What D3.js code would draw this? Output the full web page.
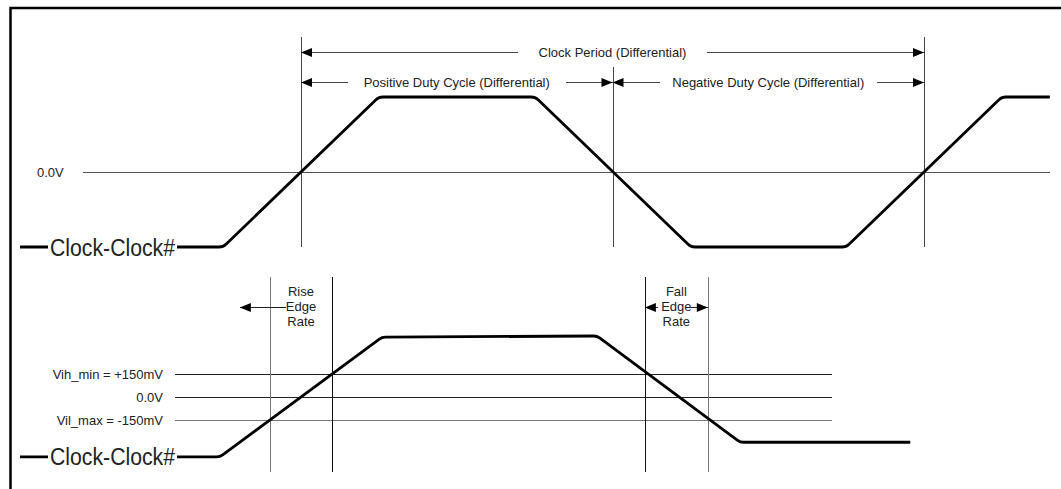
<!DOCTYPE html>
<html>
<head>
<meta charset="utf-8">
<script src="https://cdn.jsdelivr.net/npm/d3@7"></script>
<style>
  body { margin: 0; background: #fff; }
  svg text { font-family: "Liberation Sans", Arial, Helvetica, sans-serif; fill: #222; }
  .thin { stroke-width: 1; shape-rendering: crispEdges; fill: none; }
  .wave { fill: none; stroke: #000; stroke-width: 2.8; }
</style>
</head>
<body>
<div id="chart"></div>
<script>
const width = 1061, height = 489;

// time is in clock periods, 0 = first rising zero crossing
// upper panel: normalised differential level (-1 low, +1 high)
const topTimes  = [-0.451, -0.125, 0.125, 0.376, 0.626, 0.875, 1.125, 1.202];
const topLevels = [-1, -1, 1, 1, -1, -1, 1, 1];
const topMarks  = [0, 0.5, 1];

const spanStarts = [0, 0, 0.5];
const spanEnds   = [1, 0.5, 1];
const spanLabels = ["Clock Period (Differential)",
                    "Positive Duty Cycle (Differential)",
                    "Negative Duty Cycle (Differential)"];

// lower panel: differential voltage in mV
const botTimes = [-0.451, -0.130, 0.130, 0.475, 0.705, 0.978];
const botMv    = [-390, -390, 390, 398, -295, -295];
const botMarks = [-0.050, 0.050, 0.552, 0.653];

const thresholds      = [150, 0, -150];
const thresholdLabels = ["Vih_min = +150mV", "0.0V", "Vil_max = -150mV"];

const waveLabel = "Clock-Clock#";

const x = d3.scaleLinear().domain([0, 1]).range([301, 924]);
const yTop = d3.scaleLinear().domain([-1, 1]).range([247, 97]);
const yBot = d3.scaleLinear().domain([-150, 150]).range([420, 374]);

const px = v => Math.round(v) + 0.5;

// polyline with rounded corners
function roundedPath(pts, r) {
  const p = d3.path();
  p.moveTo(pts[0][0], pts[0][1]);
  for (let i = 1; i < pts.length - 1; i++)
    p.arcTo(pts[i][0], pts[i][1], pts[i+1][0], pts[i+1][1], r);
  p.lineTo(pts[pts.length-1][0], pts[pts.length-1][1]);
  return p.toString();
}

function arrowHead(g, tipX, y, dir) {
  // dir -1 points left, +1 points right
  const L = 11, H = 4.5;
  g.append('path')
    .attr('d', `M${tipX},${y}L${tipX - dir*L},${y - H}L${tipX - dir*L},${y + H}Z`)
    .attr('fill', '#000');
}

const svg = d3.select('#chart').append('svg')
  .attr('width', width).attr('height', height);

// frame
svg.append('path')
  .attr('d', `M10.5,${height}V8H${width}`)
  .attr('fill', 'none').attr('stroke', '#000').attr('stroke-width', 2.5);

/* ---------- upper panel ---------- */
const up = svg.append('g');

up.append('line').attr('class', 'thin')
  .attr('x1', x(-0.350)).attr('x2', x(1.202))
  .attr('y1', px(yTop(0))).attr('y2', px(yTop(0)))
  .attr('stroke', '#555');
up.append('text')
  .attr('x', 37).attr('y', yTop(0)).attr('dy', '0.35em')
  .attr('font-size', 13).text("0.0V");

topMarks.forEach(t => {
  up.append('line').attr('class', 'thin')
    .attr('x1', px(x(t))).attr('x2', px(x(t)))
    .attr('y1', t === 0.5 ? 67 : 37).attr('y2', yTop(-1))
    .attr('stroke', '#444');
});

const rowY = [52, 82], armLen = [217, 47, 47];
spanLabels.forEach((label, i) => {
  const y = rowY[i === 0 ? 0 : 1];
  const x0 = x(spanStarts[i]), x1 = x(spanEnds[i]);
  up.append('line').attr('class', 'thin')
    .attr('x1', x0).attr('x2', x0 + armLen[i])
    .attr('y1', px(y)).attr('y2', px(y)).attr('stroke', '#444');
  up.append('line').attr('class', 'thin')
    .attr('x1', x1 - armLen[i]).attr('x2', x1)
    .attr('y1', px(y)).attr('y2', px(y)).attr('stroke', '#444');
  arrowHead(up, x0, y + 0.5, -1);
  arrowHead(up, x1, y + 0.5, 1);
  up.append('text')
    .attr('x', (x0 + x1) / 2).attr('y', y).attr('dy', '0.35em')
    .attr('text-anchor', 'middle').attr('font-size', 13)
    .text(label);
});

up.append('path').attr('class', 'wave')
  .attr('d', roundedPath(topTimes.map((t, i) => [x(t), yTop(topLevels[i])]), 10));

/* ---------- lower panel ---------- */
const lo = svg.append('g');

const thrColors = ['#222', '#222', '#777'];
thresholds.forEach((v, i) => {
  lo.append('line').attr('class', 'thin')
    .attr('x1', x(-0.202)).attr('x2', x(0.852))
    .attr('y1', px(yBot(v))).attr('y2', px(yBot(v)))
    .attr('stroke', thrColors[i]);
  lo.append('text')
    .attr('x', 163).attr('y', yBot(v)).attr('dy', '0.35em')
    .attr('text-anchor', 'end').attr('font-size', 13)
    .text(thresholdLabels[i]);
});

const markColors = ['#777', '#111', '#111', '#777'];
botMarks.forEach((t, i) => {
  lo.append('line').attr('class', 'thin')
    .attr('x1', px(x(t))).attr('x2', px(x(t)))
    .attr('y1', 277).attr('y2', 472)
    .attr('stroke', markColors[i]);
});

// edge rate labels
const edgeLines = [["Rise", "Edge", "Rate"], ["Fall", "Edge", "Rate"]];
edgeLines.forEach((lines, k) => {
  const cx = (x(botMarks[2*k]) + x(botMarks[2*k + 1])) / 2;
  lines.forEach((s, j) => {
    lo.append('text')
      .attr('x', cx).attr('y', 296 + j * 15)
      .attr('text-anchor', 'middle').attr('font-size', 13)
      .text(s);
  });
});
const arrowY = 307;
// rise: single arrow pointing left
const riseC = (x(botMarks[0]) + x(botMarks[1])) / 2;
lo.append('line').attr('class', 'thin')
  .attr('x1', x(botMarks[0]) - 30).attr('x2', riseC - 15)
  .attr('y1', px(arrowY)).attr('y2', px(arrowY)).attr('stroke', '#222');
arrowHead(lo, x(botMarks[0]) - 30, arrowY + 0.5, -1);
// fall: arrows to both marks
const fallC = (x(botMarks[2]) + x(botMarks[3])) / 2;
lo.append('line').attr('class', 'thin')
  .attr('x1', x(botMarks[2])).attr('x2', fallC - 18)
  .attr('y1', px(arrowY)).attr('y2', px(arrowY)).attr('stroke', '#222');
lo.append('line').attr('class', 'thin')
  .attr('x1', fallC + 15).attr('x2', x(botMarks[3]))
  .attr('y1', px(arrowY)).attr('y2', px(arrowY)).attr('stroke', '#222');
arrowHead(lo, x(botMarks[2]), arrowY + 0.5, -1);
arrowHead(lo, x(botMarks[3]), arrowY + 0.5, 1);

lo.append('path').attr('class', 'wave')
  .attr('d', roundedPath(botTimes.map((t, i) => [x(t), yBot(botMv[i])]), 10));

/* ---------- waveform names ---------- */
[yTop(-1), yBot(botMv[0])].forEach(yy => {
  svg.append('rect')
    .attr('x', 48).attr('y', yy - 13).attr('width', 129).attr('height', 26)
    .attr('fill', '#fff');
  svg.append('text')
    .attr('x', 50).attr('y', yy + 8.5)
    .attr('font-size', 23)
    .attr('textLength', 125).attr('lengthAdjust', 'spacingAndGlyphs')
    .text(waveLabel);
});
</script>
</body>
</html>
